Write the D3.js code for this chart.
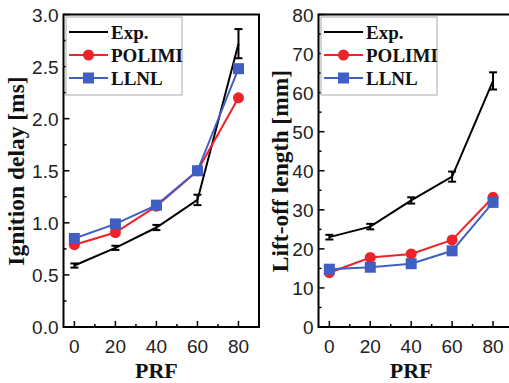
<!DOCTYPE html>
<html><head><meta charset="utf-8">
<script src="https://cdn.jsdelivr.net/npm/d3@7"></script>
<style>body{margin:0;background:#fff}svg{display:block}</style>
</head><body>
<svg id="c" width="509" height="383"></svg>
<script>
const prf = [0, 20, 40, 60, 80];
// Ignition delay [ms]
const igExp = [0.59, 0.76, 0.955, 1.22, 2.72];
const igExpErr = [0.02, 0.02, 0.025, 0.05, 0.14];
const igPolimi = [0.79, 0.907, 1.16, 1.50, 2.20];
const igLlnl = [0.85, 0.99, 1.17, 1.50, 2.48];
// Lift-off length [mm]
const loExp = [23.0, 25.7, 32.4, 38.5, 63.0];
const loExpErr = [0.6, 0.7, 0.8, 1.3, 2.2];
const loPolimi = [13.9, 17.8, 18.7, 22.3, 33.2];
const loLlnl = [14.8, 15.3, 16.2, 19.5, 31.9];
const igTicks = [0.0, 0.5, 1.0, 1.5, 2.0, 2.5, 3.0];
const loTicks = [0, 10, 20, 30, 40, 50, 60, 70, 80];
const xTicks = [0, 20, 40, 60, 80];
const seriesNames = ["Exp.", "POLIMI", "LLNL"];
const colors = {"Exp.": "#000", "POLIMI": "#ee2229", "LLNL": "#3f5fc4"};

const svg = d3.select("#c");

function panel(opt) {
  const x = d3.scaleLinear().domain([-5.3, 90]).range([opt.left, opt.right]);
  const y = d3.scaleLinear().domain(opt.ydom).range([327, 14.5]);
  const g = svg.append("g");
  // minor ticks
  const xMinor = d3.range(10, 90, 20);
  g.selectAll(".xm").data(xMinor).join("line")
    .attr("x1", d => x(d)).attr("x2", d => x(d)).attr("y1", 327).attr("y2", 324)
    .attr("stroke", "#000").attr("stroke-width", 1.5);
  g.selectAll(".xM").data(xTicks).join("line")
    .attr("x1", d => x(d)).attr("x2", d => x(d)).attr("y1", 327).attr("y2", 321)
    .attr("stroke", "#000").attr("stroke-width", 1.5);
  const yt = opt.yticks;
  const step = yt[1] - yt[0];
  const yMinor = yt.slice(0, -1).map(d => d + step / 2);
  g.selectAll(".ym").data(yMinor).join("line")
    .attr("x1", opt.left).attr("x2", opt.left + 3).attr("y1", d => y(d)).attr("y2", d => y(d))
    .attr("stroke", "#000").attr("stroke-width", 1.5);
  g.selectAll(".yM").data(yt).join("line")
    .attr("x1", opt.left).attr("x2", opt.left + 6).attr("y1", d => y(d)).attr("y2", d => y(d))
    .attr("stroke", "#000").attr("stroke-width", 1.5);
  // tick labels
  g.selectAll(".yl").data(yt).join("text")
    .attr("x", opt.left - 5).attr("y", d => y(d) + 7)
    .attr("text-anchor", "end").attr("font-family", "Liberation Sans, Arial, sans-serif")
    .attr("font-size", 19).attr("fill", "#222").text(d => opt.fmt(d));
  g.selectAll(".xl").data(xTicks).join("text")
    .attr("x", d => x(d)).attr("y", 353)
    .attr("text-anchor", "middle").attr("font-family", "Liberation Sans, Arial, sans-serif")
    .attr("font-size", 19).attr("fill", "#222").text(d => d);
  // frame
  g.append("rect").attr("x", opt.left).attr("y", 14.5)
    .attr("width", opt.right - opt.left).attr("height", 327 - 14.5)
    .attr("fill", "none").attr("stroke", "#000").attr("stroke-width", 2);
  // titles
  g.append("text").attr("x", (opt.left + 259) / 2 + (opt.left > 200 ? 0 : 0)).attr("y", 378)
    .attr("x", x(40)).attr("text-anchor", "middle")
    .attr("font-family", "Liberation Serif, Times New Roman, serif").attr("font-weight", "bold")
    .attr("font-size", 22).attr("fill", "#111").text("PRF");
  g.append("text").attr("transform", `translate(${opt.titleX},171) rotate(-90)`)
    .attr("text-anchor", "middle").attr("dominant-baseline", "central")
    .attr("font-family", "Liberation Serif, Times New Roman, serif").attr("font-weight", "bold")
    .attr("font-size", 23.5).attr("fill", "#111").text(opt.title);

  const line = d3.line().x((d, i) => x(prf[i])).y(d => y(d));
  // Exp line and error bars
  g.append("path").datum(opt.exp).attr("d", line).attr("fill", "none")
    .attr("stroke", colors["Exp."]).attr("stroke-width", 2);
  const eb = g.selectAll(".eb").data(opt.exp).join("g");
  eb.append("line").attr("x1", (d, i) => x(prf[i])).attr("x2", (d, i) => x(prf[i]))
    .attr("y1", (d, i) => y(d - opt.err[i])).attr("y2", (d, i) => y(d + opt.err[i]))
    .attr("stroke", "#000").attr("stroke-width", 2);
  [-1, 1].forEach(s => {
    eb.append("line").attr("x1", (d, i) => x(prf[i]) - 4).attr("x2", (d, i) => x(prf[i]) + 4)
      .attr("y1", (d, i) => y(d + s * opt.err[i])).attr("y2", (d, i) => y(d + s * opt.err[i]))
      .attr("stroke", "#000").attr("stroke-width", 2);
  });
  // POLIMI
  g.append("path").datum(opt.polimi).attr("d", line).attr("fill", "none")
    .attr("stroke", colors.POLIMI).attr("stroke-width", 2);
  g.selectAll(".pc").data(opt.polimi).join("circle")
    .attr("cx", (d, i) => x(prf[i])).attr("cy", d => y(d)).attr("r", 5.5)
    .attr("fill", colors.POLIMI);
  // LLNL
  g.append("path").datum(opt.llnl).attr("d", line).attr("fill", "none")
    .attr("stroke", colors.LLNL).attr("stroke-width", 2);
  g.selectAll(".ls").data(opt.llnl).join("rect")
    .attr("x", (d, i) => x(prf[i]) - 5.5).attr("y", d => y(d) - 5.5)
    .attr("width", 11).attr("height", 11).attr("fill", colors.LLNL);

  // legend
  const lx = opt.left + 2.5;
  const lg = g.append("g");
  lg.append("rect").attr("x", lx).attr("y", 17).attr("width", 116).attr("height", 78)
    .attr("fill", "#fff").attr("stroke", "#aaa").attr("stroke-width", 1);
  seriesNames.forEach((s, i) => {
    const yy = 32 + i * 23;
    lg.append("line").attr("x1", lx + 3).attr("x2", lx + 42).attr("y1", yy).attr("y2", yy)
      .attr("stroke", colors[s]).attr("stroke-width", 2);
    if (s === "POLIMI") lg.append("circle").attr("cx", lx + 22.5).attr("cy", yy).attr("r", 5.5).attr("fill", colors[s]);
    if (s === "LLNL") lg.append("rect").attr("x", lx + 17).attr("y", yy - 5.5).attr("width", 11).attr("height", 11).attr("fill", colors[s]);
    lg.append("text").attr("x", lx + 45).attr("y", yy + 6.5)
      .attr("font-family", "Liberation Serif, Times New Roman, serif").attr("font-weight", "bold")
      .attr("font-size", 19).attr("fill", "#111").text(s);
  });
}

panel({left: 63.5, right: 259, ydom: [0, 3], yticks: igTicks, fmt: d3.format(".1f"),
  exp: igExp, err: igExpErr, polimi: igPolimi, llnl: igLlnl,
  title: "Ignition delay [ms]", titleX: 16});
panel({left: 318.5, right: 513.5, ydom: [0, 80], yticks: loTicks, fmt: d => d,
  exp: loExp, err: loExpErr, polimi: loPolimi, llnl: loLlnl,
  title: "Lift-off length [mm]", titleX: 280});
</script>
</body></html>
